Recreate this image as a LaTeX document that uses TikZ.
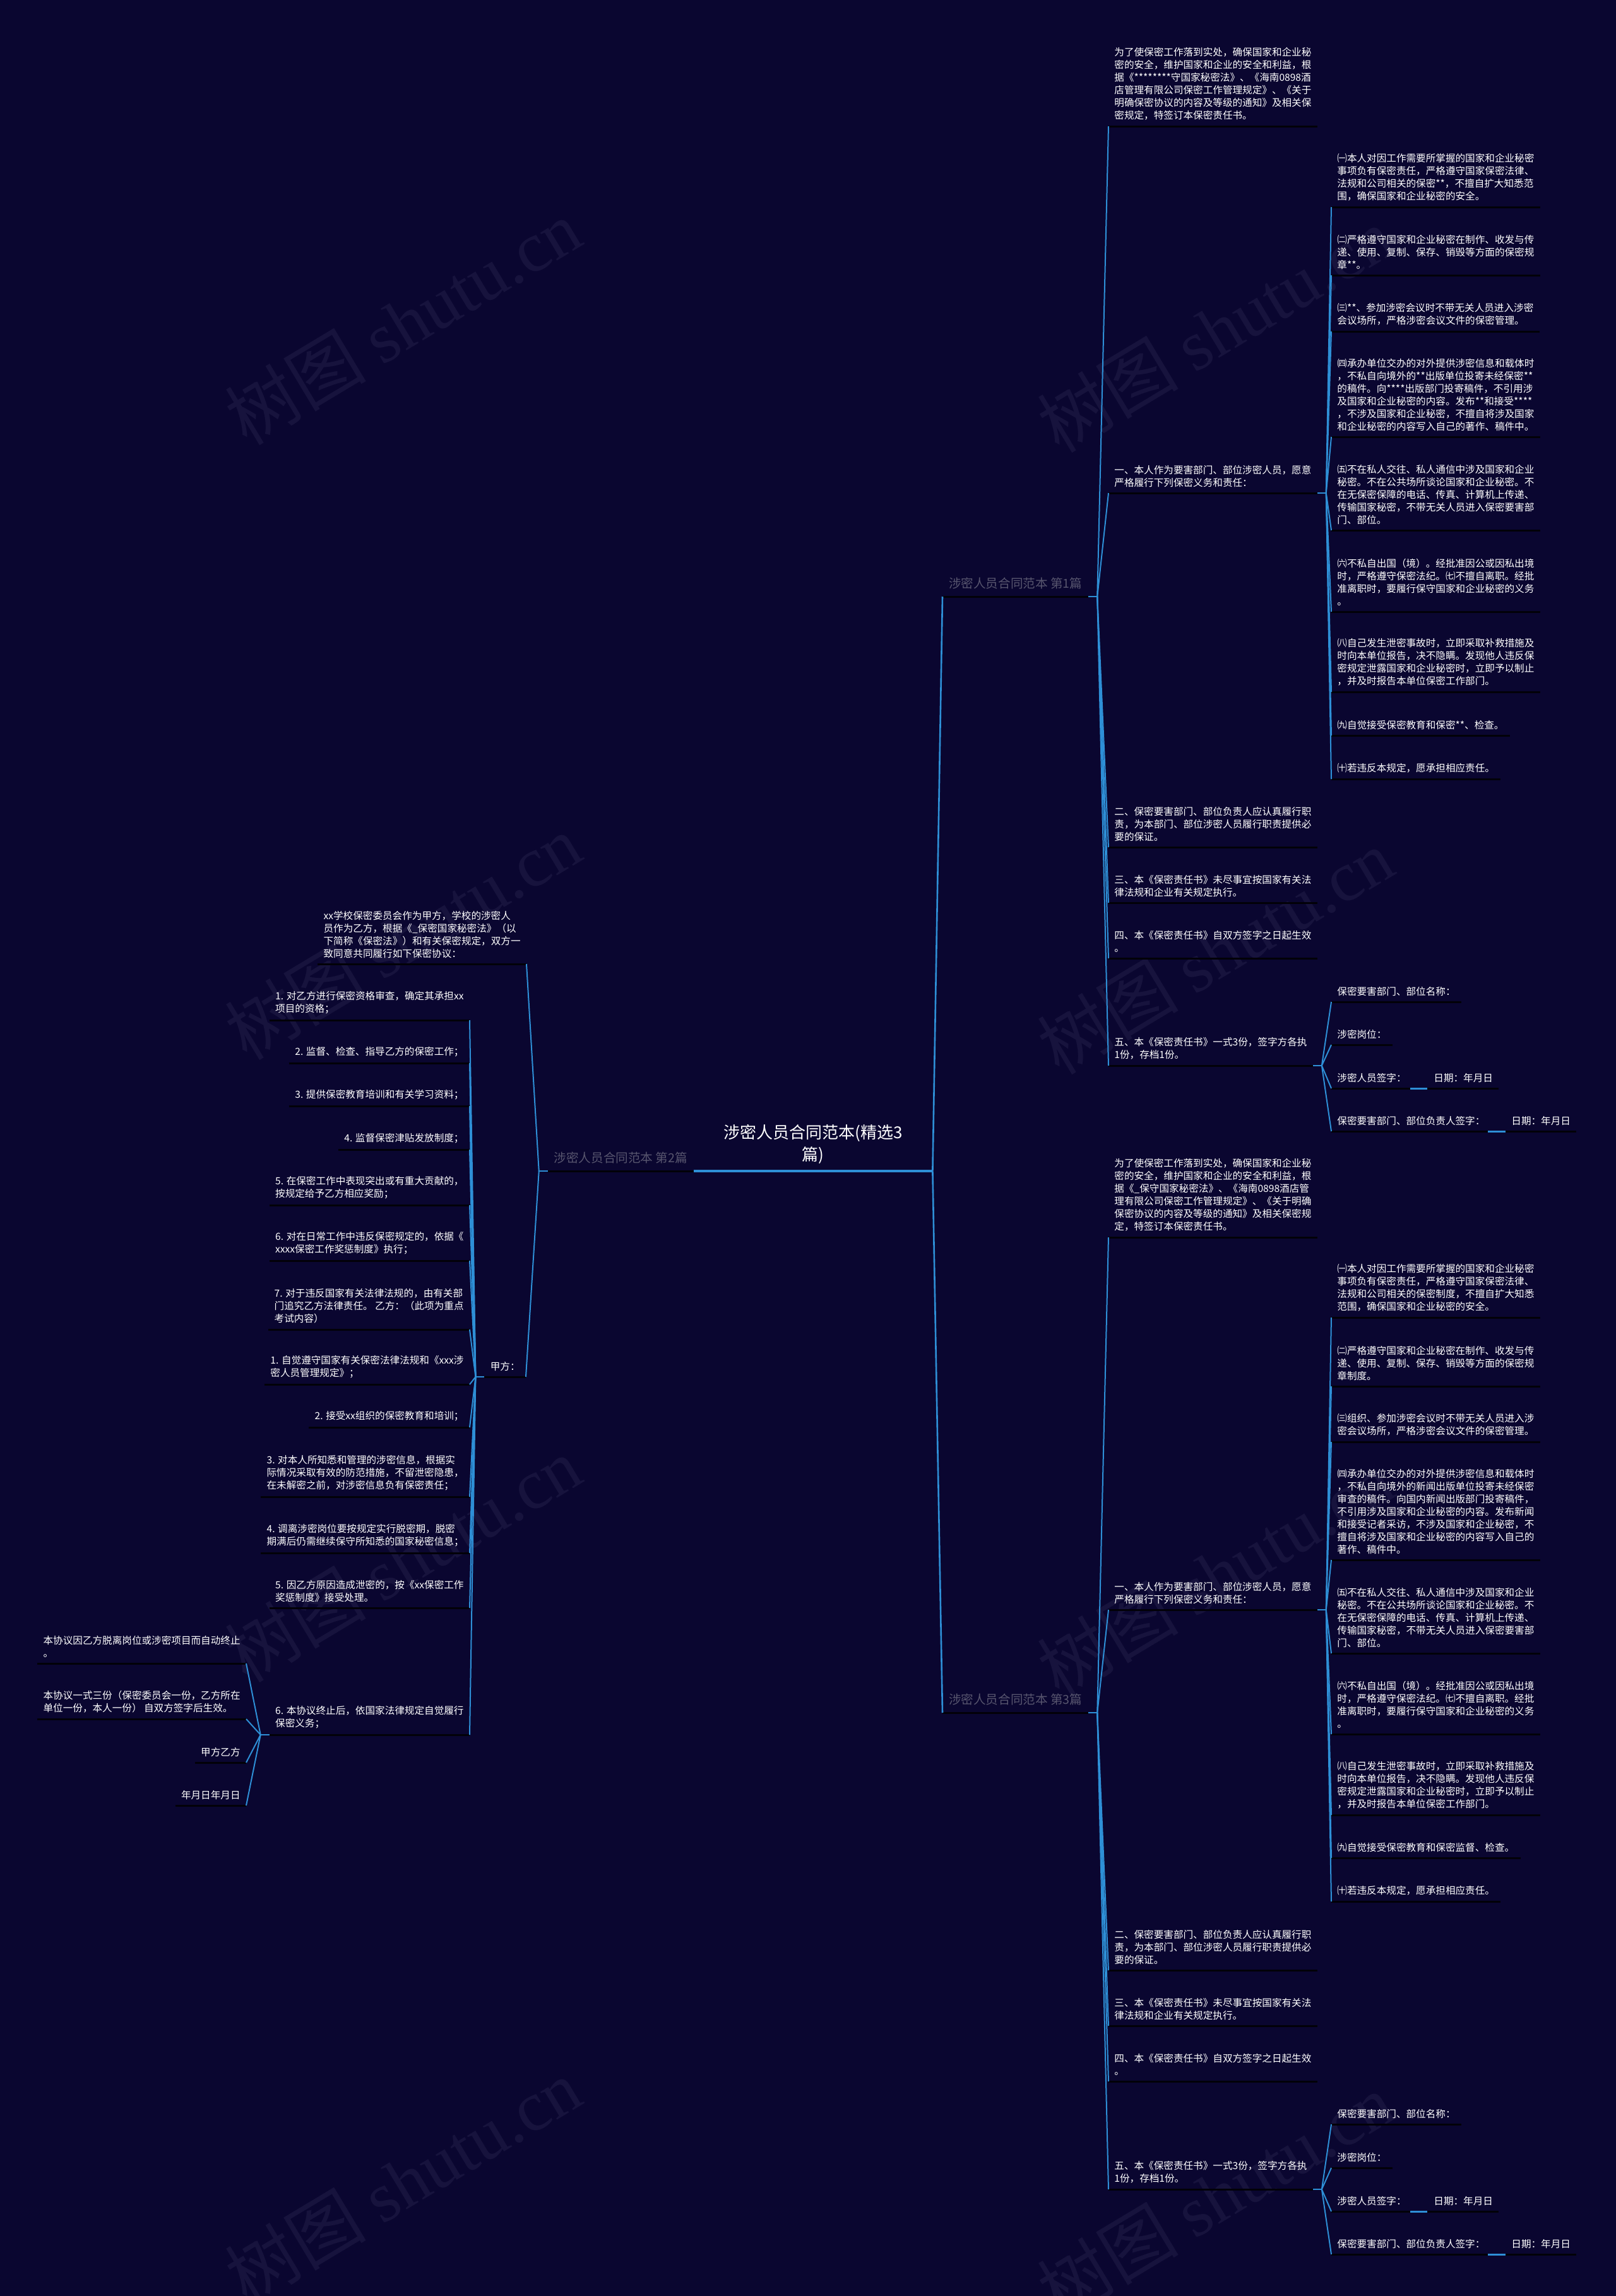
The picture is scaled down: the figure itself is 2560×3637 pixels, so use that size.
\documentclass[tikz,border=0pt]{standalone}
\usepackage{fontspec}
\setmainfont{Noto Sans CJK SC}
\newfontfamily\wmlatin{Liberation Serif}
\definecolor{bgc}{HTML}{0A0630}
\definecolor{linkc}{HTML}{2E8FD6}
\definecolor{ulc}{HTML}{020108}
\definecolor{lblc}{HTML}{57556E}
\definecolor{wmc}{HTML}{17133D}
\begin{document}
\begin{tikzpicture}[x=0.5pt,y=-0.5pt,
 body/.style={font=\fontsize{7.8pt}{10pt}\selectfont, text=white, align=left, inner xsep=4.5pt, inner ysep=4.6pt},
 rnode/.style={body, anchor=south west},
 lnode/.style={body, anchor=south east},
 branch/.style={font=\fontsize{9.8pt}{12pt}\selectfont, text=lblc, inner xsep=4.8pt, inner ysep=5.5pt},
 uline/.style={draw=ulc, line width=1.5pt},
 link/.style={draw=linkc, line width=1pt},
 trunk/.style={draw=linkc, line width=1.3pt},
 wmark/.style={text=wmc, rotate=31, font=\fontsize{56pt}{60pt}\selectfont},
]
\fill[bgc] (0,0) rectangle (2560,3637);
\useasboundingbox (0,0) rectangle (2560,3637);

% watermarks
\foreach \wx/\wy [count=\i] in {638/510,1925/522,638/1484,1925/1507,638/2470,1925/2493,638/3455,1925/3478}
  \node[wmark] (wm\i) at (\wx,\wy) {树图 {\wmlatin shutu.cn}};

% centre
\node[font=\fontsize{13pt}{17.5pt}\selectfont, text=white, align=center, minimum width=189pt, inner ysep=5.5pt, anchor=south] (ctr) at (1288,1855) {涉密人员合同范本(精选3\\篇)};

% branch labels
\node[branch, anchor=south west] (L1) at (1493,945) {涉密人员合同范本 第1篇};
\node[branch, anchor=south west] (L3) at (1493,2713) {涉密人员合同范本 第3篇};
\node[branch, anchor=south east] (L2) at (1099,1855) {涉密人员合同范本 第2篇};

% ---------- section 1 ----------
\node[rnode] (a0) at (1756,200) {为了使保密工作落到实处，确保国家和企业秘\\密的安全，维护国家和企业的安全和利益，根\\据《********守国家秘密法》、《海南0898酒\\店管理有限公司保密工作管理规定》、《关于\\明确保密协议的内容及等级的通知》及相关保\\密规定，特签订本保密责任书。};
\node[rnode] (a1) at (1756,781) {一、本人作为要害部门、部位涉密人员，愿意\\严格履行下列保密义务和责任：};
\node[rnode] (a2) at (1756,1342) {二、保密要害部门、部位负责人应认真履行职\\责，为本部门、部位涉密人员履行职责提供必\\要的保证。};
\node[rnode] (a3) at (1756,1430) {三、本《保密责任书》未尽事宜按国家有关法\\律法规和企业有关规定执行。};
\node[rnode] (a4) at (1756,1518) {四、本《保密责任书》自双方签字之日起生效\\。};
\node[rnode] (a5) at (1756,1688) {五、本《保密责任书》一式3份，签字方各执\\1份，存档1份。};

\node[rnode] (ac1) at (2109,328) {㈠本人对因工作需要所掌握的国家和企业秘密\\事项负有保密责任，严格遵守国家保密法律、\\法规和公司相关的保密**，不擅自扩大知悉范\\围，确保国家和企业秘密的安全。};
\node[rnode] (ac2) at (2109,436) {㈡严格遵守国家和企业秘密在制作、收发与传\\递、使用、复制、保存、销毁等方面的保密规\\章**。};
\node[rnode] (ac3) at (2109,525) {㈢**、参加涉密会议时不带无关人员进入涉密\\会议场所，严格涉密会议文件的保密管理。};
\node[rnode] (ac4) at (2109,692) {㈣承办单位交办的对外提供涉密信息和载体时\\，不私自向境外的**出版单位投寄未经保密**\\的稿件。向****出版部门投寄稿件，不引用涉\\及国家和企业秘密的内容。发布**和接受****\\，不涉及国家和企业秘密，不擅自将涉及国家\\和企业秘密的内容写入自己的著作、稿件中。};
\node[rnode] (ac5) at (2109,840) {㈤不在私人交往、私人通信中涉及国家和企业\\秘密。不在公共场所谈论国家和企业秘密。不\\在无保密保障的电话、传真、计算机上传递、\\传输国家秘密，不带无关人员进入保密要害部\\门、部位。};
\node[rnode] (ac6) at (2109,969) {㈥不私自出国（境）。经批准因公或因私出境\\时，严格遵守保密法纪。㈦不擅自离职。经批\\准离职时，要履行保守国家和企业秘密的义务\\。};
\node[rnode] (ac8) at (2109,1096) {㈧自己发生泄密事故时，立即采取补救措施及\\时向本单位报告，决不隐瞒。发现他人违反保\\密规定泄露国家和企业秘密时，立即予以制止\\，并及时报告本单位保密工作部门。};
\node[rnode] (ac9) at (2109,1165) {㈨自觉接受保密教育和保密**、检查。};
\node[rnode] (ac10) at (2109,1234) {㈩若违反本规定，愿承担相应责任。};

\node[rnode] (an1) at (2109,1587) {保密要害部门、部位名称：};
\node[rnode] (an2) at (2109,1655) {涉密岗位：};
\node[rnode] (an3) at (2109,1724) {涉密人员签字：\hspace{21.9pt}日期：年月日};
\node[rnode] (an4) at (2109,1792) {保密要害部门、部位负责人签字：\hspace{21pt}日期：年月日};

% ---------- section 3 ----------
\node[rnode] (b0) at (1756,1960) {为了使保密工作落到实处，确保国家和企业秘\\密的安全，维护国家和企业的安全和利益，根\\据《\_保守国家秘密法》、《海南0898酒店管\\理有限公司保密工作管理规定》、《关于明确\\保密协议的内容及等级的通知》及相关保密规\\定，特签订本保密责任书。};
\node[rnode] (b1) at (1756,2550) {一、本人作为要害部门、部位涉密人员，愿意\\严格履行下列保密义务和责任：};
\node[rnode] (b2) at (1756,3121) {二、保密要害部门、部位负责人应认真履行职\\责，为本部门、部位涉密人员履行职责提供必\\要的保证。};
\node[rnode] (b3) at (1756,3209) {三、本《保密责任书》未尽事宜按国家有关法\\律法规和企业有关规定执行。};
\node[rnode] (b4) at (1756,3297) {四、本《保密责任书》自双方签字之日起生效\\。};
\node[rnode] (b5) at (1756,3468) {五、本《保密责任书》一式3份，签字方各执\\1份，存档1份。};

\node[rnode] (bc1) at (2109,2087) {㈠本人对因工作需要所掌握的国家和企业秘密\\事项负有保密责任，严格遵守国家保密法律、\\法规和公司相关的保密制度，不擅自扩大知悉\\范围，确保国家和企业秘密的安全。};
\node[rnode] (bc2) at (2109,2196) {㈡严格遵守国家和企业秘密在制作、收发与传\\递、使用、复制、保存、销毁等方面的保密规\\章制度。};
\node[rnode] (bc3) at (2109,2284) {㈢组织、参加涉密会议时不带无关人员进入涉\\密会议场所，严格涉密会议文件的保密管理。};
\node[rnode] (bc4) at (2109,2471) {㈣承办单位交办的对外提供涉密信息和载体时\\，不私自向境外的新闻出版单位投寄未经保密\\审查的稿件。向国内新闻出版部门投寄稿件，\\不引用涉及国家和企业秘密的内容。发布新闻\\和接受记者采访，不涉及国家和企业秘密，不\\擅自将涉及国家和企业秘密的内容写入自己的\\著作、稿件中。};
\node[rnode] (bc5) at (2109,2619) {㈤不在私人交往、私人通信中涉及国家和企业\\秘密。不在公共场所谈论国家和企业秘密。不\\在无保密保障的电话、传真、计算机上传递、\\传输国家秘密，不带无关人员进入保密要害部\\门、部位。};
\node[rnode] (bc6) at (2109,2747) {㈥不私自出国（境）。经批准因公或因私出境\\时，严格遵守保密法纪。㈦不擅自离职。经批\\准离职时，要履行保守国家和企业秘密的义务\\。};
\node[rnode] (bc8) at (2109,2875) {㈧自己发生泄密事故时，立即采取补救措施及\\时向本单位报告，决不隐瞒。发现他人违反保\\密规定泄露国家和企业秘密时，立即予以制止\\，并及时报告本单位保密工作部门。};
\node[rnode] (bc9) at (2109,2943) {㈨自觉接受保密教育和保密监督、检查。};
\node[rnode] (bc10) at (2109,3012) {㈩若违反本规定，愿承担相应责任。};

\node[rnode] (bn1) at (2109,3365) {保密要害部门、部位名称：};
\node[rnode] (bn2) at (2109,3434) {涉密岗位：};
\node[rnode] (bn3) at (2109,3503) {涉密人员签字：\hspace{21.9pt}日期：年月日};
\node[rnode] (bn4) at (2109,3571) {保密要害部门、部位负责人签字：\hspace{21pt}日期：年月日};

% ---------- section 2 (left) ----------
\node[lnode] (c0) at (834,1527) {xx学校保密委员会作为甲方，学校的涉密人\\员作为乙方，根据《\_保密国家秘密法》（以\\下简称《保密法》）和有关保密规定，双方一\\致同意共同履行如下保密协议：};
\node[lnode] (jia) at (833,2181) {甲方：};

\node[lnode] (j1) at (744,1616) {1. 对乙方进行保密资格审查，确定其承担xx\\项目的资格；};
\node[lnode] (j2) at (744,1684) {2. 监督、检查、指导乙方的保密工作；};
\node[lnode] (j3) at (744,1752) {3. 提供保密教育培训和有关学习资料；};
\node[lnode] (j4) at (744,1821) {4. 监督保密津贴发放制度；};
\node[lnode] (j5) at (744,1909) {5. 在保密工作中表现突出或有重大贡献的，\\按规定给予乙方相应奖励；};
\node[lnode] (j6) at (744,1997) {6. 对在日常工作中违反保密规定的，依据《\\xxxx保密工作奖惩制度》执行；};
\node[lnode] (j7) at (744,2106) {7. 对于违反国家有关法律法规的，由有关部\\门追究乙方法律责任。 乙方：（此项为重点\\考试内容）};
\node[lnode] (y1) at (744,2193) {1. 自觉遵守国家有关保密法律法规和《xxx涉\\密人员管理规定》；};
\node[lnode] (y2) at (744,2261) {2. 接受xx组织的保密教育和培训；};
\node[lnode] (y3) at (744,2371) {3. 对本人所知悉和管理的涉密信息，根据实\\际情况采取有效的防范措施，不留泄密隐患，\\在未解密之前，对涉密信息负有保密责任；};
\node[lnode] (y4) at (744,2460) {4. 调离涉密岗位要按规定实行脱密期，脱密\\期满后仍需继续保守所知悉的国家秘密信息；};
\node[lnode] (y5) at (744,2547) {5. 因乙方原因造成泄密的，按《xx保密工作\\奖惩制度》接受处理。};
\node[lnode] (y6) at (744,2748) {6. 本协议终止后，依国家法律规定自觉履行\\保密义务；};

\node[lnode] (e1) at (390,2635) {本协议因乙方脱离岗位或涉密项目而自动终止\\。};
\node[lnode] (e2) at (390,2723) {本协议一式三份（保密委员会一份，乙方所在\\单位一份，本人一份） 自双方签字后生效。};
\node[lnode] (e3) at (390,2792) {甲方乙方};
\node[lnode] (e4) at (390,2860) {年月日年月日};

% ---------- underlines ----------
\foreach \n in {L1,L2,L3,a0,a1,a2,a3,a4,a5,ac1,ac2,ac3,ac4,ac5,ac6,ac8,ac9,ac10,an1,an2,an3,an4,
  b0,b1,b2,b3,b4,b5,bc1,bc2,bc3,bc4,bc5,bc6,bc8,bc9,bc10,bn1,bn2,bn3,bn4,
  c0,jia,j1,j2,j3,j4,j5,j6,j7,y1,y2,y3,y4,y5,y6,e1,e2,e3,e4}
  \draw[uline] (\n.south west) -- (\n.south east);
\draw[draw=linkc, line width=1.6pt] (ctr.south west) -- (ctr.south east);

% blue blanks in signature lines
\foreach \n in {an3,bn3}
  \draw[draw=linkc, line width=1.5pt] ([xshift=62.5pt]\n.south west) -- ([xshift=76pt]\n.south west);
\foreach \n in {an4,bn4}
  \draw[draw=linkc, line width=1.5pt] ([xshift=124pt]\n.south west) -- ([xshift=138pt]\n.south west);

% ---------- connectors ----------
\draw[trunk] (ctr.south east) -- (L1.south west);
\draw[trunk] (ctr.south east) -- (L3.south west);

% stubs (right side)
\foreach \p in {L1,L3,a1,a5,b1,b5} {
  \coordinate (\p s) at ([xshift=7pt]\p.south east);
  \draw[link] (\p.south east) -- (\p s);
}
% stubs (left side)
\foreach \p in {L2,jia,y6} {
  \coordinate (\p s) at ([xshift=-7pt]\p.south west);
  \draw[link] (\p.south west) -- (\p s);
}

\foreach \c in {a0,a1,a2,a3,a4,a5} \draw[link] (L1s) -- (\c.south west);
\foreach \c in {b0,b1,b2,b3,b4,b5} \draw[link] (L3s) -- (\c.south west);
\foreach \c in {ac1,ac2,ac3,ac4,ac5,ac6,ac8,ac9,ac10} \draw[link] (a1s) -- (\c.south west);
\foreach \c in {bc1,bc2,bc3,bc4,bc5,bc6,bc8,bc9,bc10} \draw[link] (b1s) -- (\c.south west);
\foreach \c in {an1,an2,an3,an4} \draw[link] (a5s) -- (\c.south west);
\foreach \c in {bn1,bn2,bn3,bn4} \draw[link] (b5s) -- (\c.south west);

\foreach \c in {c0,jia} \draw[link] (L2s) -- (\c.south east);
\foreach \c in {j1,j2,j3,j4,j5,j6,j7,y1,y2,y3,y4,y5,y6} \draw[link] (jias) -- (\c.south east);
\foreach \c in {e1,e2,e3,e4} \draw[link] (y6s) -- (\c.south east);
\end{tikzpicture}
\end{document}
